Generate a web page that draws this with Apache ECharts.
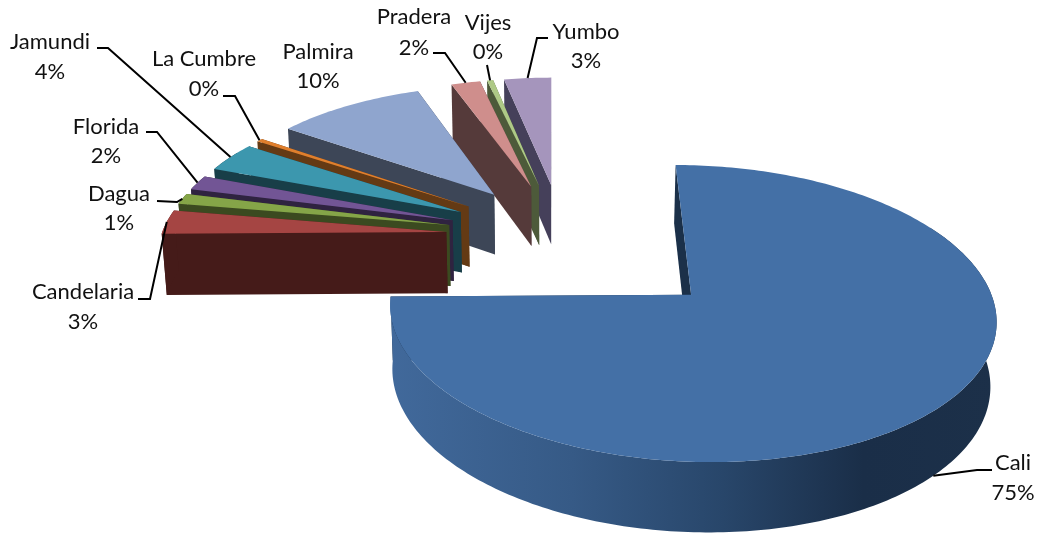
<!DOCTYPE html>
<html>
<head>
<meta charset="utf-8">
<style>html,body{margin:0;padding:0;background:#fff}#c{width:1037px;height:535px}</style>
<script src="https://cdn.jsdelivr.net/npm/echarts@6/dist/echarts.min.js"></script>
</head>
<body>
<div id="c"></div>
<script>
// ---- data ----
const categories = ['Cali','Candelaria','Dagua','Florida','Jamundi','La Cumbre','Palmira','Pradera','Vijes','Yumbo'];
const shares = [74.8,2.9,1.3,1.8,3.6,0.4,9.8,1.9,0.4,3.1];
// per-slice explosion, as a fraction of the pie radius
const explosion = [0.6,0.41,0.41,0.41,0.41,0.41,0.41,0.41,0.41,0.41];
// ---- colours ----
const topColors = ['#4470a6','#a54543','#85a548','#725595','#3c97ae','#e07f2d','#8fa5ce','#cf8e8c','#aec986','#a595bc'];
const wallColors = ['#1b3049','#451b19','#3b4a20','#2f2340','#183e48','#643a14','#3d4657','#553a3a','#4d5a3a','#45405a'];
// ---- 3D view: perspective camera constants ----
const view = {ox:553, oy:296, fx:2375, fy:1157, dist:7.9, drop:512, dropW:0.11, cu:0.033, ct:0.43};
// ---- label layout: text centre, line ys, leader elbow points ----
const labelLayout = [
  {x:1013,y1:463,y2:493,leader:[[992,470],[977,470]]},
  {x:83,y1:292,y2:322,leader:[[138,299],[150,299]]},
  {x:119,y1:194,y2:223,leader:[[157,201],[177,202]]},
  {x:106,y1:127,y2:156,leader:[[146,132],[157,132]]},
  {x:50,y1:42,y2:72,leader:[[97,48],[108,48]]},
  {x:204,y1:59,y2:89,leader:[[223,96],[235,96]]},
  {x:318,y1:52,y2:81,leader:null},
  {x:414,y1:17,y2:48,leader:[[433,53],[445,53]]},
  {x:488,y1:23,y2:52,leader:[[487,65]]},
  {x:586,y1:32,y2:61,leader:[[548,38],[537,38]]}
];

const total = shares.reduce((a,b)=>a+b,0);
const rad = d => d*Math.PI/180;
function project(u,t,z){
  const w = view.dist + t + view.dropW*z;
  return [view.ox + view.fx*u/w, view.oy + (-view.fy*t + view.drop*z)/w];
}
function sliceGeom(i){
  let a0 = 0;
  for (let k=0;k<i;k++) a0 += shares[k]/total*360;
  const a1 = a0 + shares[i]/total*360, mid = (a0+a1)/2, e = explosion[i];
  const au = view.cu + e*Math.sin(rad(mid)), at = view.ct + e*Math.cos(rad(mid));
  return {a0,a1,mid,au,at};
}
function rim(g,deg,z){ return project(g.au+Math.sin(rad(deg)), g.at+Math.cos(rad(deg)), z); }

function renderSlice(params, api){
  const i = api.value(0), g = sliceGeom(i);
  const arcTop = [], arcFrontTop = [], arcFrontBot = [];
  const n = Math.max(2, Math.ceil(g.a1-g.a0));
  for (let k=0;k<=n;k++){
    const d = g.a0+(g.a1-g.a0)*k/n;
    arcTop.push(rim(g,d,0));
    // only the part of the outer wall that faces the viewer is drawn
    if (Math.cos(rad(d))<0.5){ arcFrontTop.push(rim(g,d,0)); arcFrontBot.push(rim(g,d,1)); }
  }
  const apexTop = project(g.au,g.at,0), apexBot = project(g.au,g.at,1);
  const arcFill = i===0 ? new echarts.graphic.LinearGradient(0,0,1,0,[
    {offset:0,color:'#41699b'},{offset:0.3,color:'#365a86'},{offset:0.55,color:'#28466a'},{offset:0.78,color:'#1a2e48'},{offset:1,color:'#1c3049'}
  ]) : wallColors[i];
  const tMid = d => g.at + 0.5*Math.cos(rad(d));
  const radial = [
    {t:tMid(g.a0),pts:[apexTop,arcTop[0],rim(g,g.a0,1),apexBot]},
    {t:tMid(g.a1),pts:[apexTop,arcTop[n],rim(g,g.a1,1),apexBot]}
  ].sort((a,b)=>b.t-a.t);
  const children = [];
  radial.forEach(w=>children.push({type:'polygon',shape:{points:w.pts},style:{fill:wallColors[i]},silent:true}));
  if (arcFrontTop.length>1) children.push({type:'polygon',shape:{points:arcFrontTop.concat(arcFrontBot.slice().reverse())},style:{fill:arcFill},silent:true});
  children.push({type:'polygon',shape:{points:[apexTop].concat(arcTop)},style:{fill:topColors[i]},silent:true});
  return {type:'group',children};
}
function renderLabel(params, api){
  const i = api.value(0), g = sliceGeom(i), L = labelLayout[i], children = [];
  const font = '22px Lato';
  const pct = Math.round(shares[i]/total*100)+'%';
  children.push({type:'text',style:{text:categories[i],x:L.x,y:L.y1,fill:'#111',font,textAlign:'center',textVerticalAlign:'middle'},silent:true});
  children.push({type:'text',style:{text:pct,x:L.x,y:L.y2,fill:'#111',font,textAlign:'center',textVerticalAlign:'middle'},silent:true});
  if (L.leader){
    const end = rim(g,g.mid,Math.cos(rad(g.mid))<-0.5?1:0);
    children.push({type:'polyline',shape:{points:L.leader.concat([end])},style:{stroke:'#000',lineWidth:2,fill:null},silent:true});
  }
  return {type:'group',children};
}
// far slices first, the big front slice last
const drawOrder = categories.map((_,i)=>i).reverse();
const chart = echarts.init(document.getElementById('c'),null,{renderer:'canvas'});
chart.setOption({
  animation:false,
  backgroundColor:'#ffffff',
  series:[
    {type:'custom',coordinateSystem:'none',renderItem:renderSlice,data:drawOrder.map(i=>[i,shares[i]]),z:2,silent:true,clip:false},
    {type:'custom',coordinateSystem:'none',renderItem:renderLabel,data:drawOrder.map(i=>[i,shares[i]]),z:3,silent:true,clip:false}
  ]
});
</script>
</body>
</html>
